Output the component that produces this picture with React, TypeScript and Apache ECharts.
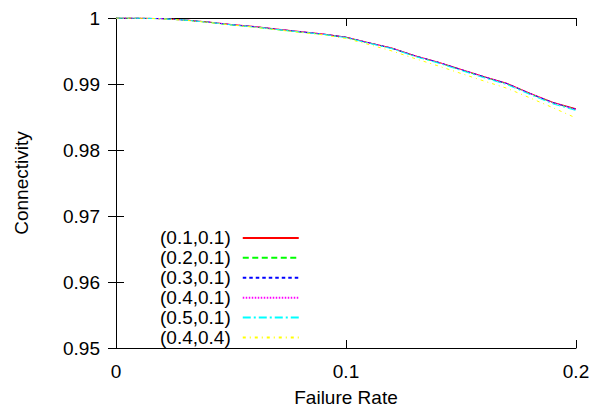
import React, { useEffect, useRef } from "react";
import * as echarts from "echarts";

const failureRates = [0, 0.01, 0.02, 0.03, 0.04, 0.05, 0.06, 0.07, 0.08, 0.09, 0.1, 0.11, 0.12, 0.13, 0.14, 0.15, 0.16, 0.17, 0.18, 0.19, 0.2];

const seriesNames = ["(0.1,0.1)", "(0.2,0.1)", "(0.3,0.1)", "(0.4,0.1)", "(0.5,0.1)", "(0.4,0.4)"];

const conn_01_01 = [1, 0.99998, 0.9999, 0.9997, 0.9994, 0.99902, 0.99872, 0.99832, 0.99795, 0.99758, 0.9971, 0.99625, 0.99545, 0.99428, 0.99332, 0.99222, 0.99112, 0.9901, 0.9886, 0.98722, 0.98625];
const conn_02_01 = [1, 0.99998, 0.99989, 0.99968, 0.99936, 0.99895, 0.99864, 0.99824, 0.99787, 0.99752, 0.99705, 0.9962, 0.99538, 0.99422, 0.99326, 0.99215, 0.99105, 0.99002, 0.98852, 0.98714, 0.98612];
const conn_03_01 = [1, 0.99998, 0.9999, 0.99969, 0.99938, 0.99899, 0.99869, 0.99829, 0.99792, 0.99756, 0.99708, 0.99624, 0.99542, 0.99426, 0.9933, 0.99219, 0.99109, 0.99006, 0.98856, 0.98717, 0.98616];
const conn_04_01 = [1, 0.99998, 0.9999, 0.9997, 0.99939, 0.999, 0.9987, 0.9983, 0.99794, 0.99757, 0.99709, 0.99623, 0.99543, 0.99427, 0.99331, 0.9922, 0.9911, 0.99007, 0.98857, 0.98718, 0.98614];
const conn_05_01 = [1, 0.99998, 0.99989, 0.99968, 0.99937, 0.99897, 0.99866, 0.99826, 0.99789, 0.99752, 0.99702, 0.99617, 0.99534, 0.99416, 0.99318, 0.99205, 0.99094, 0.9899, 0.9884, 0.98698, 0.98598];
const conn_04_04 = [1, 0.99998, 0.99988, 0.99966, 0.99934, 0.99894, 0.99862, 0.9982, 0.99782, 0.99744, 0.9969, 0.99598, 0.995, 0.99385, 0.99275, 0.9916, 0.99045, 0.98935, 0.9879, 0.9864, 0.98485];

const seriesValues = [conn_01_01, conn_02_01, conn_03_01, conn_04_01, conn_05_01, conn_04_04];
const seriesColors = ["#ff0000", "#00ff00", "#0000ff", "#ff00ff", "#00ffff", "#ffff00"];
const seriesDashes: (string | number[])[] = ["solid", [6, 3.5], [3.5, 3], [1.5, 1.5], [8, 3, 2, 3], [3, 4, 1, 4]];

const FONT = "'Liberation Sans', Arial, Helvetica, sans-serif";

export default function App() {
  const ref = useRef<HTMLDivElement>(null);
  useEffect(() => {
    document.body.style.margin = "0";
    if (!ref.current) return;
    const chart = echarts.init(ref.current, undefined, { renderer: "svg" });
    const axisLine = { show: true, lineStyle: { color: "#000", width: 1 } };
    const axisTick = { show: true, inside: true, length: 8, lineStyle: { color: "#000", width: 1 } };
    const labelStyle = { color: "#000", fontSize: 19, fontFamily: FONT };
    chart.setOption({
      animation: false,
      backgroundColor: "#fff",
      textStyle: { fontFamily: FONT },
      grid: { left: 116, right: 26, top: 18, bottom: 58, containLabel: false },
      legend: {
        orient: "vertical",
        left: 160,
        top: 228,
        padding: 0,
        align: "right",
        itemWidth: 56,
        itemHeight: 14,
        itemGap: 0,
        itemStyle: { opacity: 0 },
        textStyle: { color: "#000", fontSize: 19, fontFamily: FONT, lineHeight: 19.9, padding: [0, 7, 0, 0] },
        data: seriesNames,
      },
      xAxis: [
        {
          type: "value",
          min: 0,
          max: 0.2,
          interval: 0.1,
          position: "bottom",
          name: "Failure Rate",
          nameLocation: "middle",
          nameGap: 40,
          nameTextStyle: { ...labelStyle },
          axisLine,
          axisTick,
          axisLabel: { ...labelStyle, margin: 14, formatter: (v: number) => String(+v.toFixed(2)) },
          splitLine: { show: false },
        },
        {
          type: "value",
          min: 0,
          max: 0.2,
          interval: 0.1,
          position: "top",
          axisLine,
          axisTick,
          axisLabel: { show: false },
          splitLine: { show: false },
        },
      ],
      yAxis: [
        {
          type: "value",
          min: 0.95,
          max: 1,
          interval: 0.01,
          position: "left",
          name: "Connectivity",
          nameLocation: "middle",
          nameGap: 85,
          nameRotate: 90,
          nameTextStyle: { ...labelStyle },
          axisLine,
          axisTick,
          axisLabel: { ...labelStyle, margin: 16, formatter: (v: number) => String(+v.toFixed(2)) },
          splitLine: { show: false },
        },
        {
          type: "value",
          min: 0.95,
          max: 1,
          interval: 0.01,
          position: "right",
          axisLine,
          axisTick,
          axisLabel: { show: false },
          splitLine: { show: false },
        },
      ],
      series: seriesNames.map((name, i) => ({
        name,
        type: "line",
        xAxisIndex: 0,
        yAxisIndex: 0,
        symbol: "none",
        showSymbol: false,
        smooth: false,
        color: seriesColors[i],
        lineStyle: { color: seriesColors[i], width: 1, type: seriesDashes[i] },
        data: failureRates.map((x, j) => [x, seriesValues[i][j]]),
      })),
    });
    return () => chart.dispose();
  }, []);
  return <div ref={ref} style={{ width: 602, height: 412 }} />;
}
